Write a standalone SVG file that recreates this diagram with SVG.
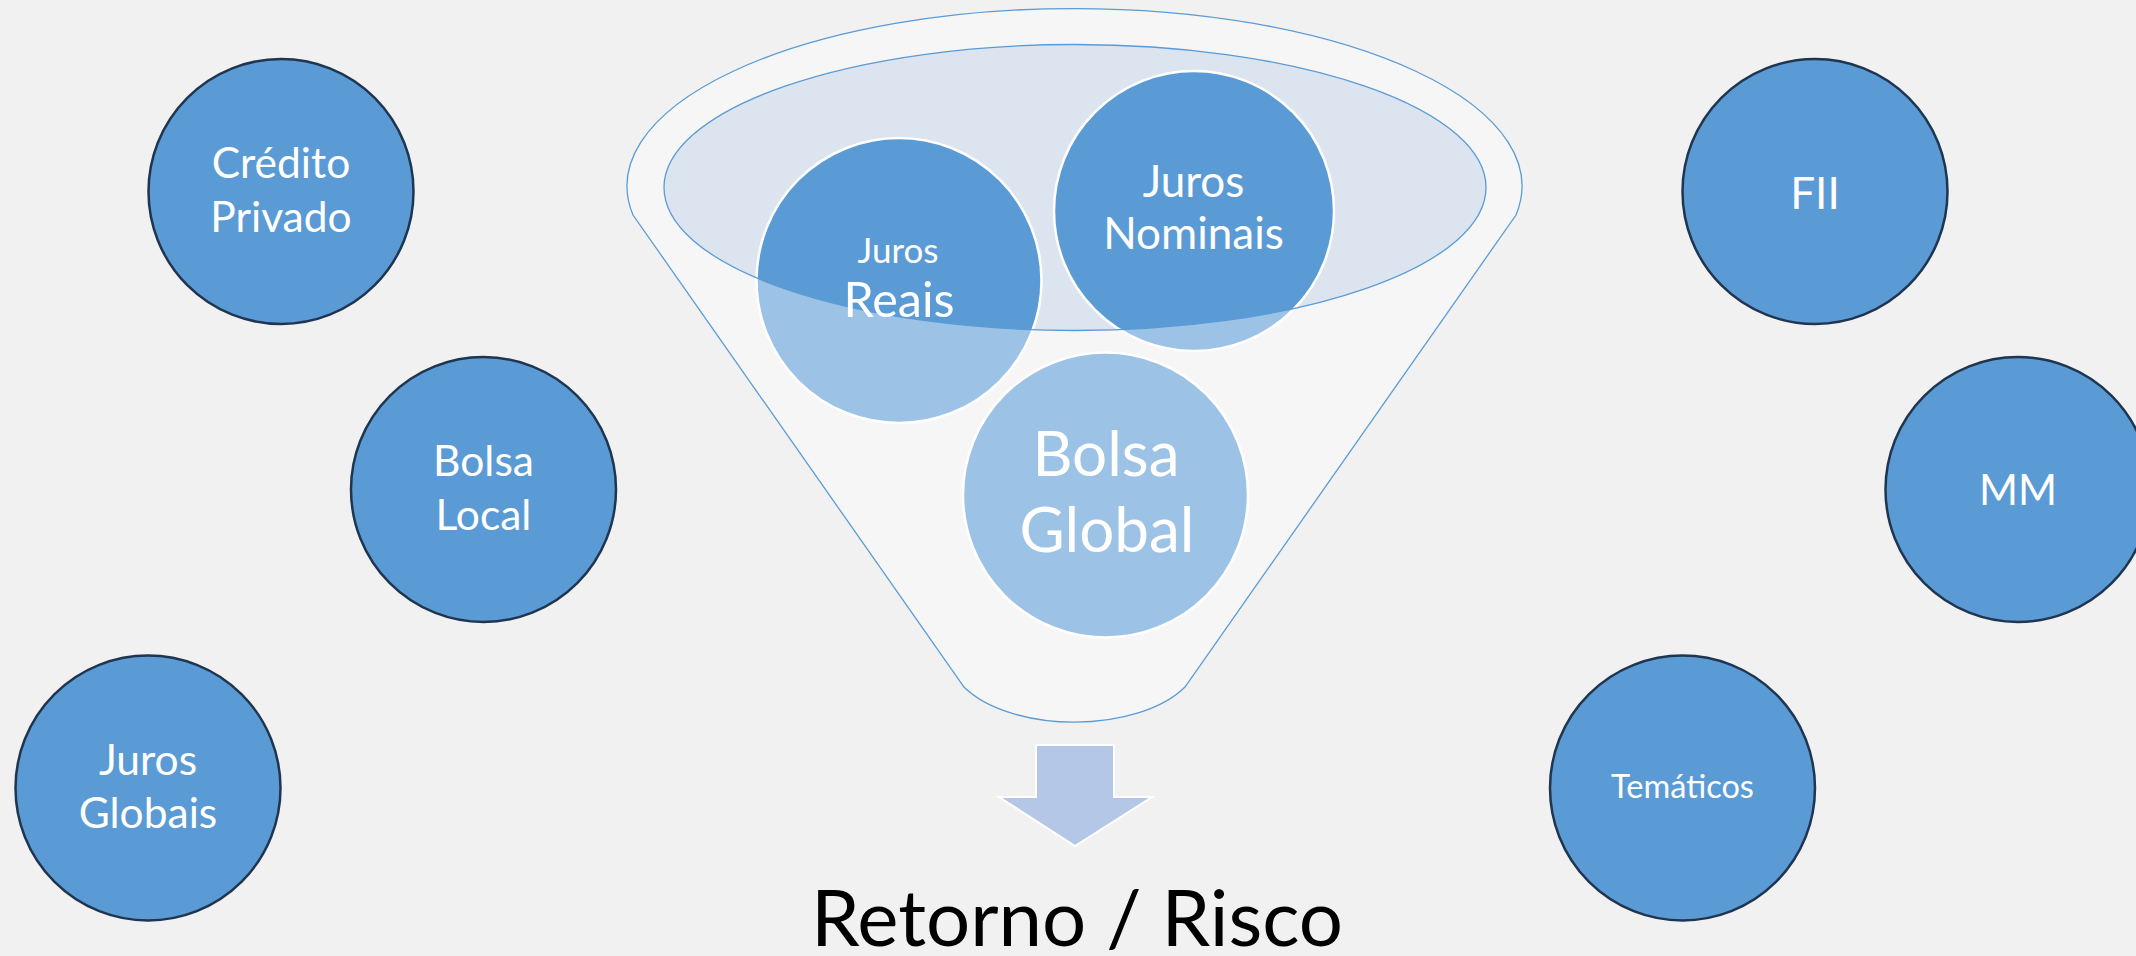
<svg xmlns="http://www.w3.org/2000/svg" width="2136" height="956" viewBox="0 0 2136 956">
<style>
.outer{fill:#5B9BD5;stroke:#1F3550;stroke-width:2.5}
.inner{fill:#5B9BD5;stroke:#FFFFFF;stroke-width:2.5}
.lbl{font-family:Lato,"Liberation Sans",sans-serif;fill:#FFFFFF;text-anchor:middle}
.fl{fill:none;stroke:#5B9BD5;stroke-width:1.3}
</style>
<defs>
<path id="funnelBody" d="M633,215 A447.5,177.5 0 1 1 1516,215 L1185,687 A125,66 0 0 1 964,687 Z"/>
<ellipse id="mouth" cx="1075" cy="187.5" rx="411" ry="143"/>
</defs>
<rect x="0" y="0" width="2136" height="956" fill="#F1F1F1"/>

<g id="credito-privado">
<circle class="outer" cx="281" cy="191.5" r="132.5"/>
<text class="lbl" x="281" y="178" font-size="42.5">Crédito</text>
<text class="lbl" x="281" y="231.5" font-size="42.5">Privado</text>
</g>
<g id="bolsa-local">
<circle class="outer" cx="483.5" cy="489.5" r="132.5"/>
<text class="lbl" x="483.5" y="476" font-size="42.5">Bolsa</text>
<text class="lbl" x="483.5" y="529.5" font-size="42.5">Local</text>
</g>
<g id="juros-globais">
<circle class="outer" cx="148" cy="788" r="132.5"/>
<text class="lbl" x="148" y="775" font-size="42.5">Juros</text>
<text class="lbl" x="148" y="828" font-size="42.5">Globais</text>
</g>
<g id="fii">
<circle class="outer" cx="1815" cy="191.5" r="132.5"/>
<text class="lbl" x="1815" y="209" font-size="44">FII</text>
</g>
<g id="mm">
<circle class="outer" cx="2018" cy="489.5" r="132.5"/>
<text class="lbl" x="2018" y="505" font-size="42">MM</text>
</g>
<g id="tematicos">
<circle class="outer" cx="1682.5" cy="788" r="132.5"/>
<text class="lbl" x="1682.5" y="798" font-size="32.5">Temáticos</text>
</g>

<g id="funnel">
<use href="#funnelBody" fill="#F1F1F1"/>
<use href="#mouth" fill="#DCE4EF"/>
<g id="juros-reais">
<circle class="inner" cx="899" cy="280.5" r="142.5"/>
</g>
<g id="juros-nominais">
<circle class="inner" cx="1194" cy="211" r="140"/>
</g>
<g id="bolsa-global">
<circle class="inner" cx="1105.5" cy="495" r="142.5"/>
</g>
<path d="M633,215 A447.5,177.5 0 1 1 1516,215 L1185,687 A125,66 0 0 1 964,687 Z M664,187.5 A411,143 0 1 0 1486,187.5 A411,143 0 1 0 664,187.5 Z" fill="#FFFFFF" fill-opacity="0.4" fill-rule="evenodd"/>
<use href="#funnelBody" class="fl"/>
<use href="#mouth" class="fl"/>
<text class="lbl" x="898" y="262.5" font-size="35">Juros</text>
<text class="lbl" x="899" y="316.5" font-size="48.5">Reais</text>
<text class="lbl" x="1193.5" y="196.5" font-size="44">Juros</text>
<text class="lbl" x="1193.5" y="249" font-size="44">Nominais</text>
<text class="lbl" x="1106" y="475.5" font-size="62">Bolsa</text>
<text class="lbl" x="1107" y="551.5" font-size="62">Global</text>
</g>

<g id="connectors">
<polygon points="1036,745 1114,745 1114,797 1152,797 1075,846 999,797 1036,797" fill="#B4C7E7" stroke="#FFFFFF" stroke-width="2"/>
</g>

<g id="result">
<text x="1077" y="946" font-family="Lato,'Liberation Sans',sans-serif" font-size="78" fill="#000000" text-anchor="middle">Retorno / Risco</text>
</g>
</svg>
